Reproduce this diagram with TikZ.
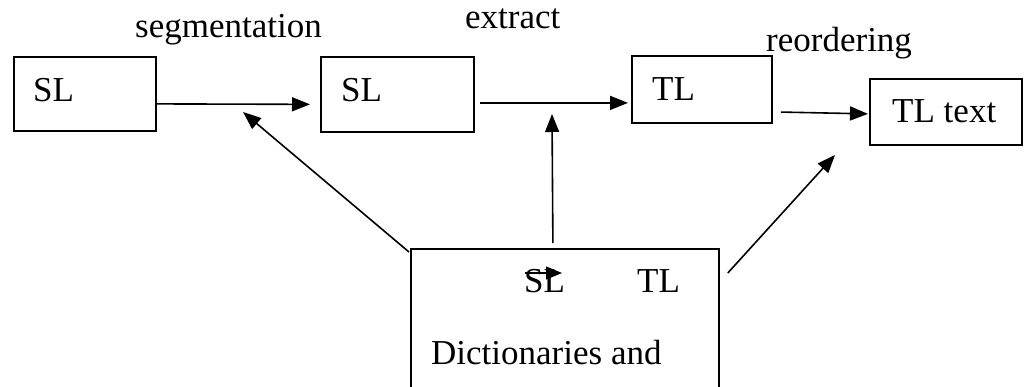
\documentclass[tikz,border=0pt]{standalone}
\usepackage{fontspec}
\setmainfont{Liberation Serif}
\usetikzlibrary{arrows.meta}
\begin{document}
\begin{tikzpicture}[x=1pt,y=-1pt,
  box/.style={draw,line width=1.8pt,inner sep=0pt,anchor=north west},
  lbl/.style={anchor=base west,inner sep=0pt,font=\fontsize{35}{40}\selectfont},
  flow/.style={line width=1.6pt,-{Triangle[length=18pt,width=14pt]}}]
\useasboundingbox (0,0) rectangle (1025,387);
\clip (0,0) rectangle (1025,387);

% processing stages
\node[box,minimum width=142pt,minimum height=74pt] (b1) at (13,56) {};
\node[box,minimum width=153pt,minimum height=75pt] (b2) at (320,56) {};
\node[box,minimum width=140pt,minimum height=67pt] (b3) at (631,55) {};
\node[box,minimum width=152pt,minimum height=66pt] (b4) at (869,78) {};
\node[box,minimum width=308pt,minimum height=200pt] (dict) at (410,248) {};

% box texts
\node[lbl] (t1) at (33,102) {SL};
\node[lbl] (t2) at (341,102) {SL};
\node[lbl] (t3) at (652,101) {TL};
\node[lbl] (t4) at (892,123) {TL text};
\node[lbl] (d1) at (524,292) {SL};
\node[lbl] (d2) at (637,292) {TL};
\node[lbl] (d3) at (431,364) {Dictionaries and};

% step labels
\node[lbl] (s1) at (135,38) {segmentation};
\node[lbl] (s2) at (465,29) {extract};
\node[lbl] (s3) at (766,52) {reordering};

% main flow
\draw[flow,shorten >=10pt] ([yshift=-10pt]b1.east) -- ([yshift=-10pt]b2.west);
\draw[flow,shorten <=5pt,shorten >=3pt] ([yshift=-8.5pt]b2.east) -- ([yshift=-13.5pt]b3.west);
\draw[flow,shorten <=8pt,shorten >=1pt] ([yshift=-22.5pt]b3.east) -- ([yshift=-2pt]b4.west);

% dictionary feeds
\coordinate (c1) at (243,112);
\coordinate (c2) at (552,114);
\coordinate (c3) at (835,155);
\draw[flow] ([shift={(-1,4)}]dict.north west) -- (c1);
\draw[flow] ([shift={(-12,-5)}]dict.north) -- (c2);
\draw[flow] ([shift={(8,25)}]dict.north east) -- (c3);

% small arrow across the first header
\coordinate (i1) at (525,273);
\coordinate (i2) at (562,273);
\draw[line width=1.2pt,-{Triangle[length=16pt,width=13pt]}] (i1) -- (i2);
\end{tikzpicture}
\end{document}
